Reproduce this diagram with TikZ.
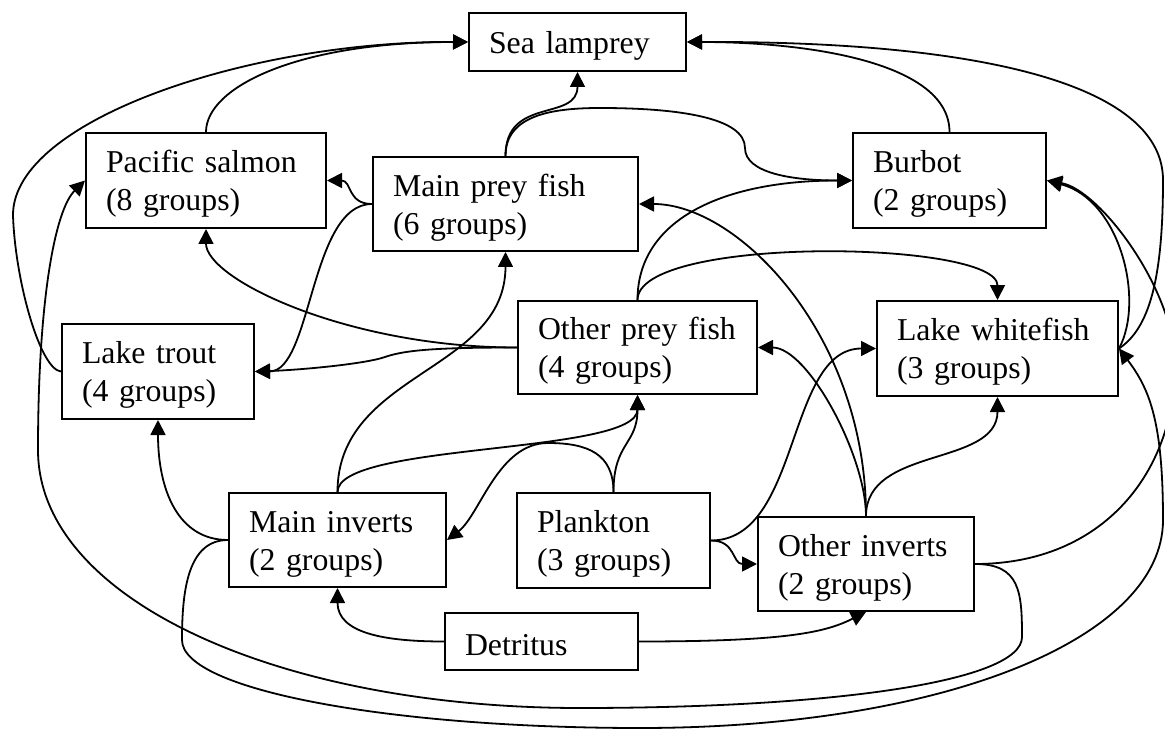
\documentclass[tikz,border=0pt]{standalone}
\usepackage{fontspec}
\setmainfont{Liberation Serif}
\usetikzlibrary{arrows.meta}

\begin{document}
\begin{tikzpicture}[ x=1pt, y=-1pt,
  box/.style={draw, line width=2pt, anchor=north west, align=left,
    inner xsep=20pt, inner ysep=0pt, text height=29pt,
    font=\fontsize{31.8}{38}\selectfont},
  link/.style={line width=1.8pt, -{Triangle[length=15pt,width=15pt]}} ]

\path[use as bounding box, fill=white] (0,0) rectangle (1165,730);

%Groups
\node[box, text width=177pt, minimum height=58pt] (sl) at (468,12)  {Sea lamprey};
\node[box, text width=200pt, minimum height=95pt] (ps) at (85,132)  {Pacific salmon\\(8 groups)};
\node[box, text width=225pt, minimum height=94pt] (mp) at (372,156) {Main prey fish\\(6 groups)};
\node[box, text width=153pt, minimum height=95pt] (bb) at (852,132) {Burbot\\(2 groups)};
\node[box, text width=199pt, minimum height=93pt] (op) at (517,300) {Other prey fish\\(4 groups)};
\node[box, text width=201pt, minimum height=95pt] (lw) at (876,300) {Lake whitefish\\(3 groups)};
\node[box, text width=152pt, minimum height=95pt] (lt) at (61,323)  {Lake trout\\(4 groups)};
\node[box, text width=177pt, minimum height=94pt] (mi) at (228,492) {Main inverts\\(2 groups)};
\node[box, text width=153pt, minimum height=95pt] (pl) at (516,492) {Plankton\\(3 groups)};
\node[box, text width=176pt, minimum height=94pt] (oi) at (757,516) {Other inverts\\(2 groups)};
\node[box, text width=153pt, minimum height=57pt] (dt) at (444,612) {Detritus};

%Bends
\path (13,215)   coordinate (W1);
\path (1163,180) coordinate (E1);
\path (1175,365) coordinate (E2);
\path (600,108)  coordinate (T1);
\path (745,148)  coordinate (T2);
\path (385,357)  coordinate (M1);
\path (548,443)  coordinate (M2);
\path (1022,637) coordinate (B1);
\path (580,708)  coordinate (B2);
\path (38,450)   coordinate (B3);
\path (182,640)  coordinate (B4);
\path (640,728)  coordinate (B5);
\path (1163,520) coordinate (B6);

%Into sea lamprey
\draw[link] (ps.north) .. controls +(0,-45) and +(-170,0) .. (sl.west);
\draw[link] (lt.west) .. controls +(-21,-2) and (15,280) .. (W1)
            .. controls (13,120) and (250,41) .. (sl.west);
\draw[link] (mp.north) .. controls +(0,-60) and +(0,50) .. (sl.south);
\draw[link] (bb.north) .. controls +(0,-70) and +(120,0) .. (sl.east);
\draw[link] (lw.east) .. controls +(30,-20) and (1163,280) .. (E1)
            .. controls (1163,90) and (1000,41) .. (sl.east);

%Into salmon and trout
\draw[link] (mp.west) .. controls +(-25,0) and +(25,0) .. (ps.east);
\draw[link] (op.west) .. controls +(-170,0) and +(0,50) .. (ps.south);
\draw[link] (oi.east) .. controls +(45,0) and +(0,-45) .. (B1)
            .. controls +(0,45) and +(250,0) .. (B2)
            .. controls +(-300,0) and +(0,150) .. (B3)
            .. controls (38,300) and (55,210) .. (ps.west);
\draw[link] (mp.west) .. controls +(-62,0) and +(57,0) .. (lt.east);
\draw[link] (op.west) .. controls +(-80,0) and (405,350) .. (M1)
            .. controls (365,364) and (300,370) .. (lt.east);
\draw[link] (mi.west) .. controls +(-50,0) and +(0,70) .. (lt.south);

%Into burbot
\draw[link] (mp.north) .. controls +(0,-40) and +(-50,0) .. (T1)
            .. controls +(80,0) and +(0,-30) .. (T2)
            .. controls +(0,25) and +(-60,0) .. (bb.west);
\draw[link] (op.north) .. controls +(0,-80) and +(-130,0) .. (bb.west);
\draw[link] (lw.east) .. controls (1145,300) and (1120,200) .. (bb.east);
\draw[link] (oi.east) .. controls +(130,0) and (1175,470) .. (E2)
            .. controls (1175,290) and (1100,190) .. (bb.east);

%Into prey fish and whitefish
\draw[link] (mi.north) .. controls +(0,-120) and +(0,120) .. (mp.south);
\draw[link] (oi.north) .. controls +(0,-180) and +(100,0) .. (mp.east);
\draw[link] (op.north) .. controls +(0,-65) and +(0,-60) .. (lw.north);
\draw[link] (pl.east) .. controls +(90,0) and +(-90,0) .. (lw.west);
\draw[link] (oi.north) .. controls +(0,-70) and +(0,70) .. (lw.south);
\draw[link] (mi.west) .. controls +(-40,0) and +(0,-50) .. (B4)
            .. controls +(0,50) and +(-250,0) .. (B5)
            .. controls +(300,0) and +(0,120) .. (B6)
            .. controls +(0,-100) and +(30,40) .. (lw.east);
\draw[link] (mi.north) .. controls +(0,-50) and +(0,60) .. (op.south);
\draw[link] (pl.north) .. controls +(0,-50) and +(0,50) .. (op.south);
\draw[link] (oi.north) .. controls +(0,-60) and +(50,0) .. (op.east);

%Into inverts
\draw[link] (pl.north) .. controls +(0,-38) and +(40,0) .. (M2)
            .. controls +(-50,0) and (480,515) .. (mi.east);
\draw[link] (dt.west) .. controls +(-60,0) and +(0,45) .. (mi.south);
\draw[link] (pl.east) .. controls +(25,0) and +(-25,0) .. (oi.west);
\draw[link] (dt.east) .. controls +(150,0) and +(-40,20) .. (oi.south);

\end{tikzpicture}
\end{document}
